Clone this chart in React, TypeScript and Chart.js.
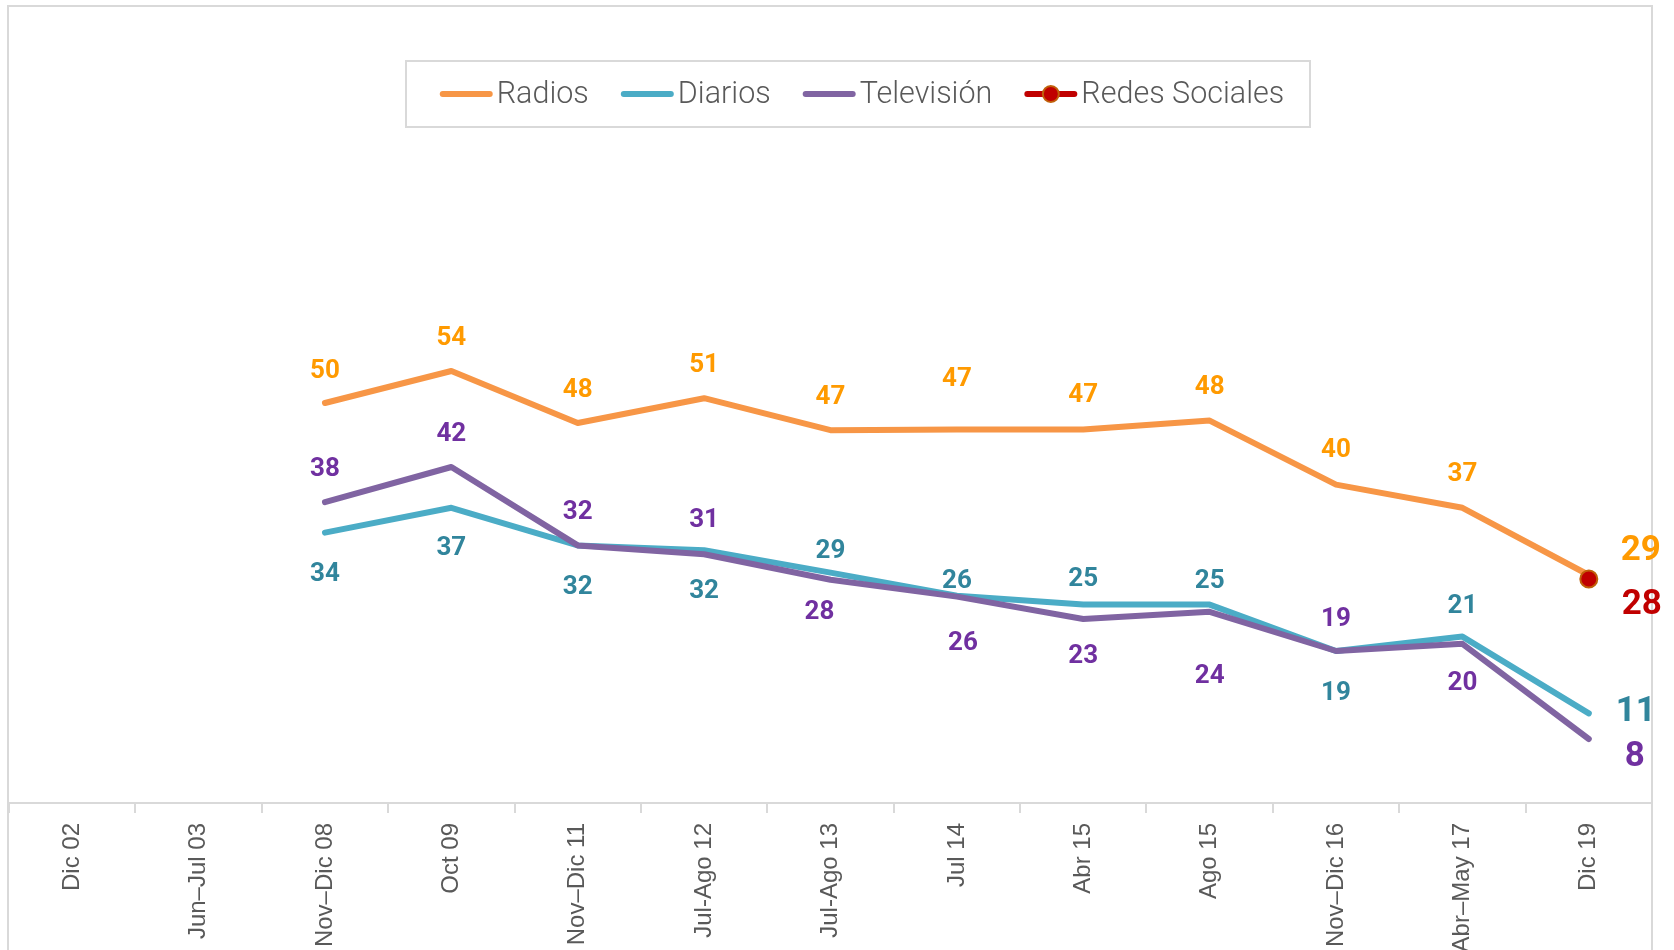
import React, { useEffect, useRef } from 'react';
import { Chart, registerables } from 'chart.js';

Chart.register(...registerables);

// ---- Data ----
const categories = [
  'Dic 02', 'Jun–Jul 03', 'Nov–Dic 08', 'Oct 09', 'Nov–Dic 11', 'Jul-Ago 12',
  'Jul-Ago 13', 'Jul 14', 'Abr 15', 'Ago 15', 'Nov–Dic 16', 'Abr–May 17', 'Dic 19',
];
const radios = [null, null, 50, 54, 47.5, 50.6, 46.6, 46.7, 46.7, 47.8, 39.8, 36.9, 28.5];
const diarios = [null, null, 33.8, 36.9, 32.2, 31.6, 28.8, 25.9, 24.8, 24.8, 19, 20.8, 11.2];
const television = [null, null, 37.6, 42, 32.2, 31.1, 27.9, 25.8, 23, 23.9, 19, 19.9, 8];
const redesSociales = [null, null, null, null, null, null, null, null, null, null, null, null, 28];

// ---- Label placement (pixel offsets from each point) ----
const radiosLabelOffsets = [null, null, [0, -35], [0, -36], [0, -36], [0, -36], [0, -36], [0, -53], [0, -37], [0, -36], [0, -37], [0, -36], [52, -27]];
const diariosLabelOffsets = [null, null, [0, 39], [0, 38], [0, 39], [0, 38], [0, -24], [0, -17], [0, -28], [0, -26], [0, 39], [0, -33], [47, -4]];
const televisionLabelOffsets = [null, null, [0, -36], [0, -36], [0, -36], [0, -37], [-11, 30], [6, 44], [0, 34], [0, 62], [0, -35], [0, 37], [46, 15]];
const redesLabelOffsets = [null, null, null, null, null, null, null, null, null, null, null, null, [53, 23]];
const LABEL_SHIFT_Y = 3;

const lineColors = ['#F79646', '#4BACC6', '#8064A2', '#C00000'];
const labelColors = ['#FF9A00', '#31859C', '#7030A0', '#C00000'];

const W = 1674;
const H = 950;
const AXIS_Y = 803;

const labelPlugin = {
  id: 'pointLabels',
  afterDatasetsDraw(chart: any) {
    const ctx = chart.ctx;
    ctx.save();
    ctx.textAlign = 'center';
    ctx.textBaseline = 'middle';
    chart.data.datasets.forEach((ds: any, di: number) => {
      const meta = chart.getDatasetMeta(di);
      const offs = ds.labelOffsets as any[];
      meta.data.forEach((pt: any, i: number) => {
        const v = ds.data[i];
        if (v == null || !offs[i]) return;
        const big = i === ds.data.length - 1;
        ctx.font = big ? 'bold 35px Roboto' : 'bold 26px Roboto';
        ctx.fillStyle = ds.labelColor;
        ctx.fillText(String(Math.round(v)), pt.x + offs[i][0], pt.y + offs[i][1] + LABEL_SHIFT_Y);
      });
    });
    ctx.restore();
  },
};

const legendPlugin = {
  id: 'boxLegend',
  afterDraw(chart: any) {
    const ctx = chart.ctx;
    ctx.save();
    ctx.strokeStyle = '#d9d9d9';
    ctx.lineWidth = 2;
    ctx.strokeRect(406, 61, 904, 66);
    ctx.font = '300 30.5px Roboto';
    const lineW = 53;
    const gapT = 4;
    const gapItem = 32;
    const items = chart.data.datasets.map((d: any) => ({
      label: d.label,
      color: d.borderColor,
      marker: d.pointRadius > 0,
      pointColor: d.pointBackgroundColor,
      pointBorder: d.pointBorderColor,
      w: lineW + gapT + ctx.measureText(d.label).width,
    }));
    const total = items.reduce((s: number, it: any) => s + it.w, 0) + gapItem * (items.length - 1);
    let x = 862 - total / 2;
    const y = 94;
    items.forEach((it: any) => {
      ctx.beginPath();
      ctx.strokeStyle = it.color;
      ctx.lineWidth = 6;
      ctx.lineCap = 'round';
      ctx.moveTo(x + 3, y);
      ctx.lineTo(x + lineW - 3, y);
      ctx.stroke();
      if (it.marker) {
        ctx.beginPath();
        ctx.arc(x + lineW / 2, y, 8, 0, Math.PI * 2);
        ctx.fillStyle = it.pointColor;
        ctx.fill();
        ctx.lineWidth = 2;
        ctx.strokeStyle = it.pointBorder;
        ctx.stroke();
      }
      ctx.fillStyle = '#595959';
      ctx.textAlign = 'left';
      ctx.textBaseline = 'middle';
      ctx.fillText(it.label, x + lineW + gapT, y + 1);
      x += it.w + gapItem;
    });
    ctx.restore();
  },
};

export default function App() {
  const canvasRef = useRef<HTMLCanvasElement>(null);

  useEffect(() => {
    if (!canvasRef.current) return;
    const common = {
      pointRadius: 0,
      pointHoverRadius: 0,
      borderWidth: 6,
      borderCapStyle: 'round',
      borderJoinStyle: 'round',
      tension: 0,
      spanGaps: false,
    };
    const chart = new Chart(canvasRef.current, {
      type: 'line',
      data: {
        labels: categories,
        datasets: [
          { ...common, label: 'Radios', data: radios, borderColor: lineColors[0], backgroundColor: lineColors[0], order: 3, labelColor: labelColors[0], labelOffsets: radiosLabelOffsets } as any,
          { ...common, label: 'Diarios', data: diarios, borderColor: lineColors[1], backgroundColor: lineColors[1], order: 2, labelColor: labelColors[1], labelOffsets: diariosLabelOffsets } as any,
          { ...common, label: 'Televisión', data: television, borderColor: lineColors[2], backgroundColor: lineColors[2], order: 1, labelColor: labelColors[2], labelOffsets: televisionLabelOffsets } as any,
          {
            ...common,
            label: 'Redes Sociales',
            data: redesSociales,
            borderColor: lineColors[3],
            backgroundColor: lineColors[3],
            pointRadius: 8.5,
            pointHoverRadius: 8.5,
            pointBackgroundColor: '#C00000',
            pointBorderColor: '#C0600A',
            pointBorderWidth: 2,
            order: 0,
            labelColor: labelColors[3],
            labelOffsets: redesLabelOffsets,
          } as any,
        ],
      },
      options: {
        animation: false,
        responsive: true,
        maintainAspectRatio: false,
        events: [],
        layout: { autoPadding: false, padding: { left: 9, right: W - 1652, top: 3, bottom: 0 } },
        plugins: {
          legend: { display: false },
          tooltip: { enabled: false },
        },
        scales: {
          x: {
            offset: true,
            afterFit: (scale: any) => { scale.height = H - AXIS_Y; },
            grid: {
              display: true,
              offset: true,
              drawOnChartArea: false,
              drawTicks: true,
              tickLength: 10,
              color: '#d9d9d9',
              lineWidth: 2,
            },
            border: { display: true, color: '#d9d9d9', width: 2 },
            ticks: {
              autoSkip: false,
              minRotation: 90,
              maxRotation: 90,
              padding: 10,
              color: '#595959',
              font: { family: '"Liberation Sans", Arial, sans-serif', size: 24 },
            },
          },
          y: {
            display: false,
            min: 0,
            max: 100,
          },
        },
      },
      plugins: [labelPlugin, legendPlugin],
    } as any);
    return () => chart.destroy();
  }, []);

  return (
    <div>
      <div
        style={{
          position: 'fixed',
          left: 7,
          top: 5,
          width: 1646,
          height: 980,
          boxSizing: 'border-box',
          border: '2px solid #d9d9d9',
        }}
      />
      <div style={{ position: 'fixed', left: 0, top: 0, width: W, height: H }}>
        <canvas ref={canvasRef} />
      </div>
    </div>
  );
}
